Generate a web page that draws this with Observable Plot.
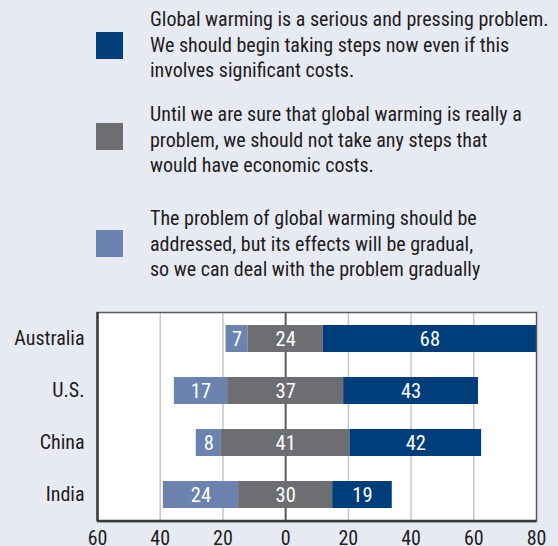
<!DOCTYPE html>
<html>
<head>
<meta charset="utf-8">
<script src="https://cdn.jsdelivr.net/npm/d3@7"></script>
<script src="https://cdn.jsdelivr.net/npm/@observablehq/plot@0.6"></script>
<style>
  html, body { margin: 0; padding: 0; background: #e7eaf2; overflow: hidden; }
  body { width: 558px; height: 546px; position: relative;
         font-family: "Roboto Condensed", Roboto, sans-serif; }
  #legend { position: relative; height: 290px; }
  .sw { position: absolute; left: 96px; width: 27px; height: 27px; }
  .lt { position: absolute; left: 150px; font-size: 20px; line-height: 25.5px; color: #1f1c1d; white-space: nowrap; }
  #chart { position: absolute; top: 290px; left: 0; }
</style>
</head>
<body>
<div id="legend"></div>
<div id="chart"></div>
<script>
const countries = ["Australia", "U.S.", "China", "India"];
const pressing = [68, 43, 42, 19];      // serious & pressing, act now
const waitSure = [24, 37, 41, 30];      // no steps until sure
const gradual = [7, 17, 8, 24];         // deal with it gradually
const tickValues = [-60, -40, -20, 0, 20, 40, 60, 80];

const colors = { pressing: "#003d7b", waitSure: "#6d6e71", gradual: "#6c83b0" };
const legendItems = [
  { key: "pressing", lines: ["Global warming is a serious and pressing problem.", "We should begin taking steps now even if this", "involves significant costs."], top: 7, sq: 32 },
  { key: "waitSure", lines: ["Until we are sure that global warming is really a", "problem, we should not take any steps that", "would have economic costs."], top: 102, sq: 123 },
  { key: "gradual", lines: ["The problem of global warming should be", "addressed, but its effects will be gradual,", "so we can deal with the problem gradually"], top: 206, sq: 230 }
];

const legend = document.getElementById("legend");
for (const it of legendItems) {
  const sq = document.createElement("div");
  sq.className = "sw"; sq.style.top = it.sq + "px"; sq.style.background = colors[it.key];
  legend.appendChild(sq);
  const t = document.createElement("div");
  t.className = "lt"; t.style.top = it.top + "px";
  t.innerHTML = it.lines.join("<br>");
  legend.appendChild(t);
}

// diverging stacked segments: neutral answer centered on zero
const segs = [];
countries.forEach((c, i) => {
  const h = waitSure[i] / 2;
  segs.push({ country: c, key: "gradual", value: gradual[i], x1: -h - gradual[i], x2: -h });
  segs.push({ country: c, key: "waitSure", value: waitSure[i], x1: -h, x2: h });
  segs.push({ country: c, key: "pressing", value: pressing[i], x1: h, x2: h + pressing[i] });
});

const font = '"Roboto Condensed", Roboto, sans-serif';
const W = 558, H = 275, ML = 97, MR = 22, MT = 22, MB = 44;

const chart = Plot.plot({
  width: W,
  height: H,
  marginLeft: ML,
  marginRight: MR,
  marginTop: MT,
  marginBottom: MB,
  style: { background: "transparent", fontFamily: font, fontSize: "20px", color: "#1f1c1d", overflow: "visible" },
  x: { domain: [-60, 80], label: null },
  y: { domain: countries, paddingInner: 0.49, paddingOuter: 0.22, label: null },
  marks: [
    Plot.frame({ fill: "white", stroke: null }),
    Plot.ruleX(tickValues.filter(d => d !== 0 && d !== -60 && d !== 80), { stroke: "#c6c6c6", strokeWidth: 1.5 }),
    Plot.ruleX([0], { stroke: "#58595b", strokeWidth: 2 }),
    Plot.barX(segs, { y: "country", x1: "x1", x2: "x2", fill: d => colors[d.key] }),
    Plot.text(segs, { y: "country", x: d => (d.x1 + d.x2) / 2, text: "value", fill: "white", fontSize: 20.5 }),
    Plot.frame({ stroke: "#58595b", strokeWidth: 1.5 }),
    Plot.ruleX([-60], { stroke: "#3a3a3c", strokeWidth: 2.5 }),
    Plot.axisX({ ticks: tickValues, tickFormat: d => Math.abs(d), tickSize: 0, tickPadding: 9.5, fontSize: 20, label: null }),
    Plot.axisY({ tickSize: 0, tickPadding: 13, fontSize: 20, label: null })
  ]
});
document.getElementById("chart").appendChild(chart);

// thicker bottom axis line
d3.select(chart).append("line")
  .attr("x1", ML).attr("x2", W - MR)
  .attr("y1", H - MB).attr("y2", H - MB)
  .attr("stroke", "#3a3a3c").attr("stroke-width", 2.5);
</script>
</body>
</html>
